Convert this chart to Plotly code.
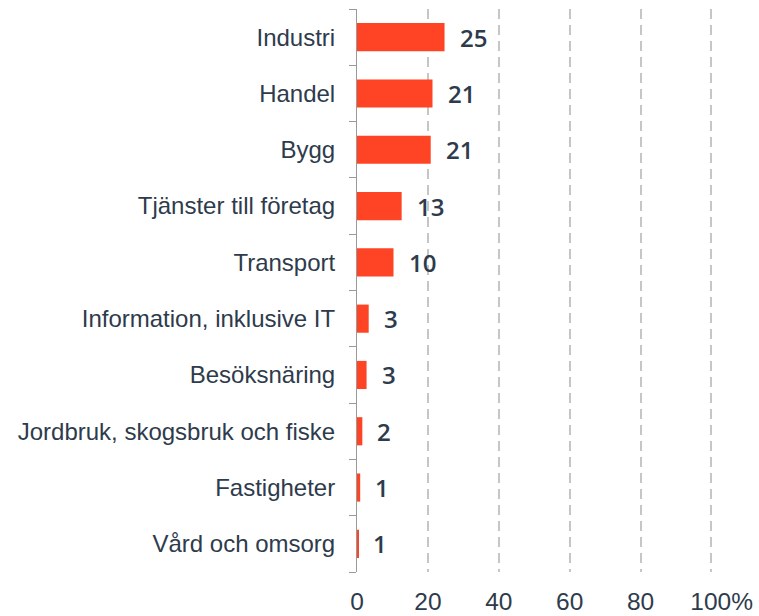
import plotly.graph_objects as go

categories = ["Industri", "Handel", "Bygg", "Tjänster till företag", "Transport",
              "Information, inklusive IT", "Besöksnäring",
              "Jordbruk, skogsbruk och fiske", "Fastigheter", "Vård och omsorg"]
values = [24.7, 21.3, 20.8, 12.6, 10.3, 3.3, 2.7, 1.5, 0.9, 0.3]
value_labels = ["25", "21", "21", "13", "10", "3", "3", "2", "1", "1"]
x_ticks = [0, 20, 40, 60, 80, 100]
x_tick_labels = ["0", "20", "40", "60", "80", "\u00a0\u00a0\u00a0100%"]

BAR = "#ff4426"
TEXT = "#2e3b4c"

fig = go.Figure()
fig.add_trace(go.Bar(
    x=values, y=categories, orientation="h",
    marker=dict(color=BAR, line=dict(width=0)),
    width=0.5, hoverinfo="skip",
))

for c, v, t in zip(categories, values, value_labels):
    fig.add_annotation(x=v, y=c, text=t, showarrow=False, xanchor="left",
                       xshift=13, yshift=0,
                       font=dict(family="Open Sans", size=24, color=TEXT, weight=600))

fig.update_layout(
    width=759, height=616,
    margin=dict(l=357, r=44, t=9, b=44, autoexpand=False),
    paper_bgcolor="white", plot_bgcolor="white",
    showlegend=False,
    font=dict(family="Liberation Sans, Arial", size=22, color=TEXT),
    xaxis=dict(range=[0, 101], tickvals=x_ticks, ticktext=x_tick_labels,
               showgrid=True, gridcolor="#c6c6c6", gridwidth=2, griddash="10px,6px",
               zeroline=False, showline=False, ticks="", automargin=False,
               tickfont=dict(family="Liberation Sans, Arial", size=24.5, color=TEXT),
               ticklabelstandoff=12, fixedrange=True),
    yaxis=dict(categoryorder="array", categoryarray=categories[::-1],
               showline=True, linecolor="#9a9a9a", linewidth=1, automargin=False,
               ticks="outside", tickson="boundaries", ticklen=7, tickcolor="#9a9a9a",
               tickfont=dict(family="Liberation Sans, Arial", size=24, color=TEXT),
               ticklabelstandoff=16, showgrid=False, fixedrange=True),
)

fig.write_html("out.html")
